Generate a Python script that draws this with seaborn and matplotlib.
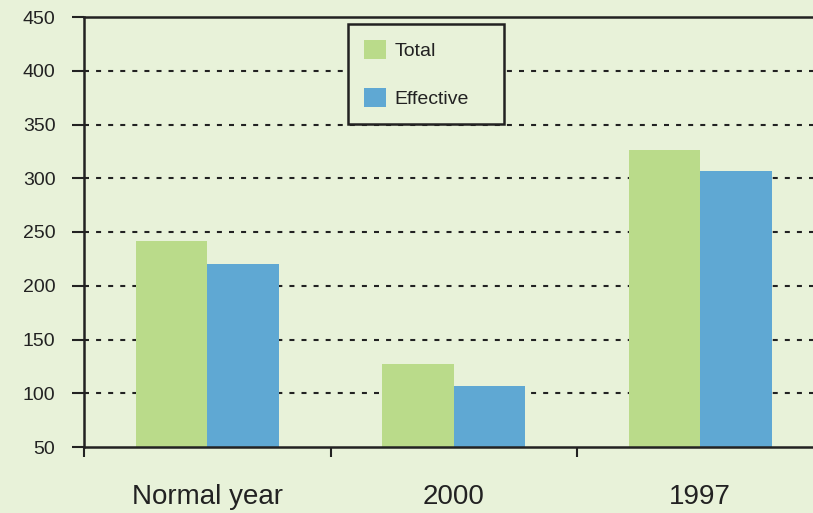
import matplotlib
matplotlib.use("Agg")
import matplotlib.pyplot as plt
import seaborn as sns
import pandas as pd

categories = ["Normal year", "2000", "1997"]
series = ["Total", "Effective"]
total_values = [242, 127, 326]
effective_values = [220, 107, 307]
y_ticks = [50, 100, 150, 200, 250, 300, 350, 400, 450]

bg = "#E8F2D9"
ink = "#222222"
colors = {"Total": "#BADB8A", "Effective": "#5FA8D3"}

df = pd.DataFrame({
    "category": categories * 2,
    "series": [series[0]] * 3 + [series[1]] * 3,
    "value": total_values + effective_values,
})

sns.set_style("white")
plt.rcParams["font.family"] = ["Liberation Sans", "DejaVu Sans"]

fig = plt.figure(figsize=(8.13, 5.13), dpi=100, facecolor=bg)
ax_w = (823.5 - 84) / 813
ax_h = (447 - 17) / 513
ax = fig.add_axes([84 / 813, 1 - 447 / 513, ax_w, ax_h])
ax.set_facecolor(bg)

sns.barplot(data=df, x="category", y="value", hue="series", order=categories,
            hue_order=series, palette=colors, width=0.58, gap=0,
            saturation=1, edgecolor="none", ax=ax, legend=True, zorder=2)

ax.set_xlim(-0.5, 2.5)
ax.set_ylim(50, 450)
ax.set_yticks(y_ticks)
ax.set_yticklabels([str(v) for v in y_ticks], fontsize=14, color=ink)
ax.set_xticks([-0.5, 0.5, 1.5, 2.5])
ax.set_xticklabels([])
ax.tick_params(axis="x", bottom=True, direction="out", length=7, width=1.5, color=ink)
ax.tick_params(axis="y", left=True, direction="out", length=8.6, width=1.5, color=ink, pad=12)
for i, c in enumerate(categories):
    ax.text(i, -(497 - 447) / 430, c, transform=ax.get_xaxis_transform(), ha="center",
            va="center", fontsize=20, color=ink)
ax.set_xlabel("")
ax.set_ylabel("")

for yv in y_ticks[1:-1]:
    ax.axhline(yv, color=ink, linestyle=(0, (2.4, 3.4)), linewidth=1.5, zorder=0.5)

for s in ["left", "bottom", "top"]:
    ax.spines[s].set_visible(True)
    ax.spines[s].set_color(ink)
    ax.spines[s].set_linewidth(1.8)
ax.spines["right"].set_visible(False)

lx0 = (348 - 84) / (823.5 - 84)
lw = (504 - 348) / (823.5 - 84)
ly1 = (447 - 24) / 430
leg = ax.legend(loc="upper left", bbox_to_anchor=(lx0, ly1 - 0.3, lw, 0.3), mode="expand",
                frameon=True, fancybox=False, fontsize=14, handlelength=1.15, handleheight=1.15,
                labelspacing=1.45, borderpad=0.8, handletextpad=0.45, borderaxespad=0)
leg.get_frame().set_edgecolor(ink)
leg.get_frame().set_linewidth(1.8)
leg.get_frame().set_facecolor(bg)
leg.get_frame().set_alpha(1)
for t in leg.get_texts():
    t.set_color(ink)

fig.savefig("out.png", dpi=100, facecolor=bg)
